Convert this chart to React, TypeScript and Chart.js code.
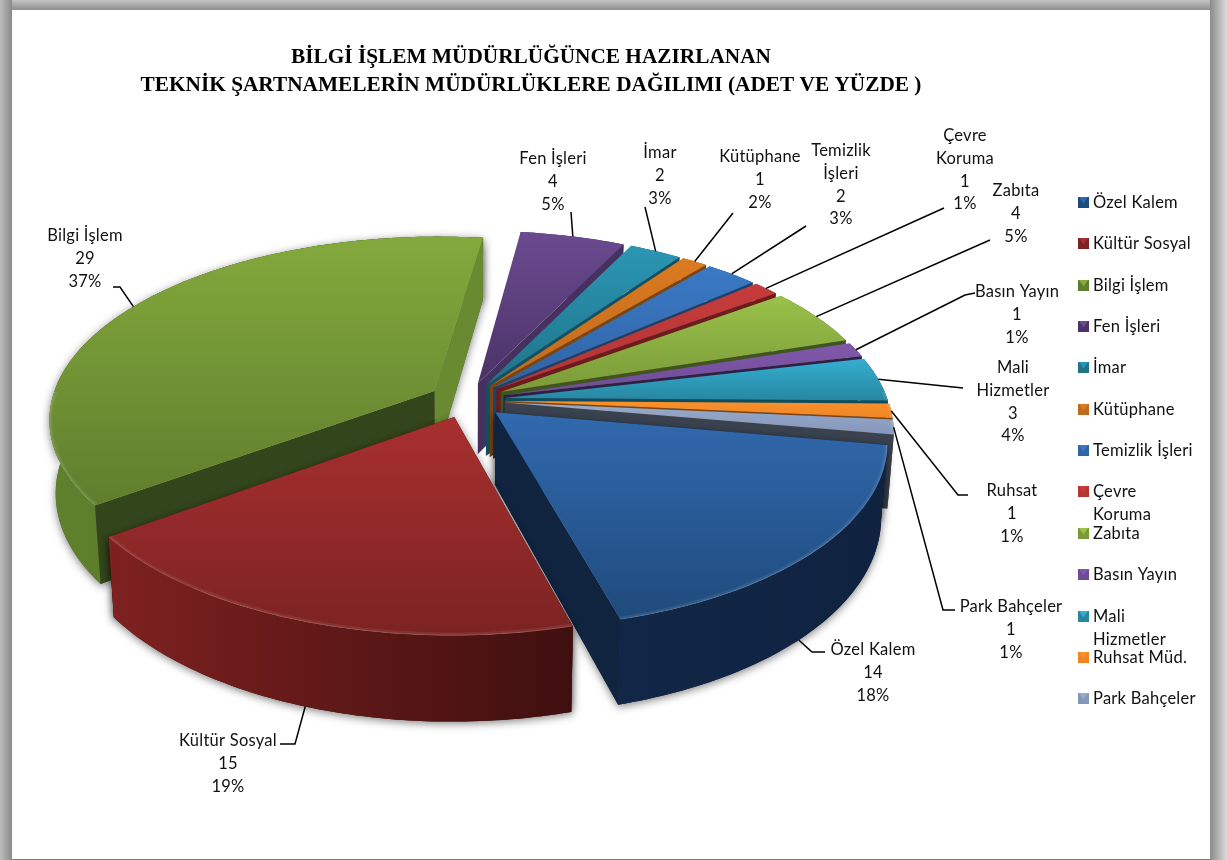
import React, { useEffect, useRef } from "react";
import { Chart, registerables } from "chart.js";

Chart.register(...registerables);

// ---- chart data ----
const categories = [
  "Özel Kalem", "Kültür Sosyal", "Bilgi İşlem", "Fen İşleri", "İmar", "Kütüphane", "Temizlik İşleri",
  "Çevre Koruma", "Zabıta", "Basın Yayın", "Mali Hizmetler", "Ruhsat Müd.", "Park Bahçeler",
];
const counts = [14, 15, 29, 4, 2, 1, 2, 1, 4, 1, 3, 1, 1];
const percentLabels = ["18%", "19%", "37%", "5%", "3%", "2%", "3%", "1%", "5%", "1%", "4%", "1%", "1%"];
const sliceNameLines = [
  ["Özel Kalem"], ["Kültür Sosyal"], ["Bilgi İşlem"], ["Fen İşleri"], ["İmar"], ["Kütüphane"], ["Temizlik", "İşleri"],
  ["Çevre", "Koruma"], ["Zabıta"], ["Basın Yayın"], ["Mali", "Hizmetler"], ["Ruhsat"], ["Park Bahçeler"],
];
const legendLines = [
  ["Özel Kalem"], ["Kültür Sosyal"], ["Bilgi İşlem"], ["Fen İşleri"], ["İmar"], ["Kütüphane"], ["Temizlik İşleri"],
  ["Çevre", "Koruma"], ["Zabıta"], ["Basın Yayın"], ["Mali", "Hizmetler"], ["Ruhsat Müd."], ["Park Bahçeler"],
];
const titleLines = [
  "BİLGİ İŞLEM MÜDÜRLÜĞÜNCE HAZIRLANAN",
  "TEKNİK ŞARTNAMELERİN MÜDÜRLÜKLERE DAĞILIMI (ADET VE YÜZDE )",
];

// ---- face colours per slice ----
const topLight = ["#3169ae", "#a82f2f", "#84a93c", "#6b4a90", "#2b96b4", "#dc7a20", "#3b79c6", "#c63b3b", "#9ac14a", "#8058aa", "#35aed2", "#fb912b", "#98abcd"];
const topDark = ["#1f4a7c", "#7b2322", "#5f7e2d", "#4a3366", "#1f7489", "#c06a1c", "#2f64a6", "#b53434", "#7a9a38", "#6f4b96", "#26879f", "#ee8424", "#8598bb"];
const rimLight = ["#13294a", "#7e2120", "#5f812d", "#46305f", "#175a6c", "#8e4c12", "#224a7c", "#7c1f1f", "#56742a", "#44305f", "#175a6c", "#8e4c12", "#3f4756"];
const rimDark = ["#0f2240", "#3f0f0f", "#4d6b25", "#3a2850", "#124958", "#783f0e", "#1a3a62", "#651919", "#445c20", "#3a2850", "#124958", "#783f0e", "#373e4b"];
const startWall = ["#10233f", "#5e1818", "#33451a", "#3e2b57", "#14505f", "#7e4410", "#1d3f6a", "#6e1b1b", "#3f5520", "#3e2b57", "#0f4c5c", "#7e4410", "#3a4250"];
const endWall = ["#10233f", "#5e1818", "#6a8a32", "#46305f", "#14505f", "#7e4410", "#1d3f6a", "#6e1b1b", "#3f5520", "#2e1f45", "#0f4c5c", "#7e4410", "#3a4250"];

// ---- pie placement ----
const ROTATION_DEG = 100;
const SLICE_OFFSET = 38;
const CX = 467;
const CY = 400;
const RX = 383;
const RY = 180;
const PERSPECTIVE = 0.15;
const DEPTH = 72;
const FLOOR_SHRINK = 0.015;

// Where each value label sits, and how its leader runs from the slice rim.
const labelCentreX = [873, 228, 85, 553, 660, 760, 841, 965, 1016, 1017, 1013, 1012, 1011];
const labelFirstY = [650, 741, 236, 159, 153, 157, 151, 136, 191, 292, 368, 491, 607];
const leaderNudgeDeg = [3, 0, 0, 0, 0, 0, 0, 0, 0, 0, 0, 0, 0];
const leaderDrop = [1, 1, 0, 0, 0, 0, 0, 0, 0, 0, 0, 0, 0];
const leaderVia: number[][][] = [
  [[812, 652], [825, 652]],
  [[295, 744], [280, 744]],
  [[120, 287], [113, 287]],
  [[571, 212]],
  [[645, 207]],
  [[733, 213]],
  [[806, 226]],
  [[944, 208]],
  [[990, 240]],
  [[965, 295], [975, 293]],
  [[963, 388]],
  [[958, 495], [968, 495]],
  [[943, 610], [955, 610]],
];
const legendY = [203, 244, 286, 327, 368, 410, 451, 492, 534, 575, 617, 658, 699];

const LABEL_FONT = '16.5px Lato, "Open Sans", sans-serif';
const LINE_GAP = 22.7;

function project(u: number, v: number, drop = 0) {
  const w = 1 - PERSPECTIVE * v;
  const x = CX + (RX * u) / w;
  return {
    x: CX + (x - CX) * (1 - FLOOR_SHRINK * drop),
    y: CY + (RY * v) / w + (drop * DEPTH) / w,
  };
}

type Pt = { x: number; y: number };

function fillPoly(ctx: CanvasRenderingContext2D, pts: Pt[], fill: string | CanvasGradient) {
  ctx.beginPath();
  pts.forEach((p, i) => (i ? ctx.lineTo(p.x, p.y) : ctx.moveTo(p.x, p.y)));
  ctx.closePath();
  ctx.fillStyle = fill;
  ctx.fill();
}

function sliceGeometry(el: any) {
  const start: number = el.startAngle;
  const end: number = el.endAngle;
  const mid = (start + end) / 2;
  const off = (el.options.offset || 0) / RX;
  const ou = Math.cos(mid) * off;
  const ov = Math.sin(mid) * off;
  const steps = Math.max(3, Math.ceil(((end - start) * 180) / Math.PI));
  const arc: { u: number; v: number }[] = [];
  for (let i = 0; i <= steps; i++) {
    const a = start + ((end - start) * i) / steps;
    arc.push({ u: ou + Math.cos(a), v: ov + Math.sin(a) });
  }
  return { start, end, mid, ou, ov, arc };
}

function isFrontWall(a: Pt, b: Pt, inside: Pt) {
  const side = (p: Pt) => (b.x - a.x) * (p.y - a.y) - (b.y - a.y) * (p.x - a.x);
  const below = { x: (a.x + b.x) / 2, y: (a.y + b.y) / 2 + 20 };
  return side(below) * side(inside) < 0;
}

function drawSlice(ctx: CanvasRenderingContext2D, el: any, i: number) {
  const g = sliceGeometry(el);
  const apexTop = project(g.ou, g.ov);
  const apexLow = project(g.ou, g.ov, 1);
  const rimTop = g.arc.map((p) => project(p.u, p.v));
  const rimLow = g.arc.map((p) => project(p.u, p.v, 1));
  const topFace = [apexTop, ...rimTop];
  const xs = topFace.map((p) => p.x);
  const ys = topFace.map((p) => p.y);
  const minX = Math.min(...xs);
  const maxX = Math.max(...xs);
  const minY = Math.min(...ys);
  const maxY = Math.max(...ys);
  const inside = {
    x: (apexTop.x + rimTop[rimTop.length >> 1].x) / 2,
    y: (apexTop.y + rimTop[rimTop.length >> 1].y) / 2,
  };

  const rimFace = [...rimTop, ...[...rimLow].reverse()];
  const startFace = [apexTop, rimTop[0], rimLow[0], apexLow];
  const endFace = [apexTop, rimTop[rimTop.length - 1], rimLow[rimLow.length - 1], apexLow];

  // soft drop shadow below the large slices
  if (counts[i] >= 14) {
    ctx.save();
    ctx.shadowColor = "rgba(0,0,0,0.5)";
    ctx.shadowBlur = 9;
    ctx.shadowOffsetY = 2;
    fillPoly(ctx, rimFace, rimDark[i]);
    fillPoly(ctx, startFace, rimDark[i]);
    fillPoly(ctx, endFace, rimDark[i]);
    ctx.restore();
  }

  const rimGrad = ctx.createLinearGradient(minX, 0, maxX, 0);
  rimGrad.addColorStop(0, rimLight[i]);
  rimGrad.addColorStop(1, rimDark[i]);
  fillPoly(ctx, rimFace, rimGrad);

  if (isFrontWall(apexTop, rimTop[0], inside)) fillPoly(ctx, startFace, startWall[i]);
  if (isFrontWall(apexTop, rimTop[rimTop.length - 1], inside)) fillPoly(ctx, endFace, endWall[i]);

  const topGrad = ctx.createLinearGradient(0, minY, 0, maxY);
  topGrad.addColorStop(0, topLight[i]);
  topGrad.addColorStop(1, topDark[i]);
  fillPoly(ctx, topFace, topGrad);

  // bevel along the front part of the outer edge of the top face
  const front = g.arc.map((p, k) => ({ p: rimTop[k], v: p.v })).filter((q) => q.v > -0.05);
  if (front.length > 1) {
    ctx.save();
    ctx.beginPath();
    topFace.forEach((p, k) => (k ? ctx.lineTo(p.x, p.y) : ctx.moveTo(p.x, p.y)));
    ctx.closePath();
    ctx.clip();
    ctx.beginPath();
    front.forEach((q, k) => (k ? ctx.lineTo(q.p.x, q.p.y) : ctx.moveTo(q.p.x, q.p.y)));
    ctx.strokeStyle = "rgba(255,255,255,0.07)";
    ctx.lineWidth = 6;
    ctx.stroke();
    ctx.strokeStyle = "rgba(255,255,255,0.13)";
    ctx.lineWidth = 2;
    ctx.stroke();
    ctx.restore();
  }
}

function drawFrame(ctx: CanvasRenderingContext2D, w: number, h: number) {
  const L = 12;
  const T = 10;
  const R = 1210;
  const band = (x0: number, y0: number, x1: number, y1: number, from: string, to: string, rx: number, ry: number, rw: number, rh: number) => {
    const gr = ctx.createLinearGradient(x0, y0, x1, y1);
    gr.addColorStop(0, from);
    gr.addColorStop(1, to);
    ctx.fillStyle = gr;
    ctx.fillRect(rx, ry, rw, rh);
  };
  ctx.fillStyle = "#ffffff";
  ctx.fillRect(0, 0, w, h);
  band(0, 0, 0, T, "#c4c4c4", "#8e8e8e", 0, 0, w, T);
  band(0, 0, L, 0, "#bdbdbd", "#8a8a8a", 0, 0, L, h);
  band(R, 0, w, 0, "#8a8a8a", "#dcdcdc", R, 0, w - R, h);
  ctx.fillStyle = "#7d7d7d";
  ctx.fillRect(L, h - 1, R - L, 1);
}

function setLabelType(ctx: CanvasRenderingContext2D, align: CanvasTextAlign) {
  ctx.fillStyle = "#111111";
  ctx.font = LABEL_FONT;
  (ctx as any).letterSpacing = "0.25px";
  ctx.textAlign = align;
  ctx.textBaseline = "middle";
}

function drawLegend(ctx: CanvasRenderingContext2D) {
  legendLines.forEach((lines, i) => {
    const y = legendY[i];
    const x0 = 1078;
    const y0 = y - 6;
    const s = 11;
    fillPoly(ctx, [{ x: x0, y: y0 }, { x: x0 + s, y: y0 }, { x: x0 + s, y: y0 + s }, { x: x0, y: y0 + s }], topDark[i]);
    fillPoly(ctx, [{ x: x0 + 1, y: y0 }, { x: x0 + s - 1, y: y0 }, { x: x0 + s / 2, y: y0 + s * 0.6 }], topLight[i]);
    setLabelType(ctx, "left");
    lines.forEach((t, k) => ctx.fillText(t, 1093, y + k * 22.5));
  });
}

function drawValueLabels(ctx: CanvasRenderingContext2D, arcs: any[]) {
  arcs.forEach((el, i) => {
    const g = sliceGeometry(el);
    const a = g.mid + (leaderNudgeDeg[i] * Math.PI) / 180;
    const from = project(g.ou + Math.cos(a), g.ov + Math.sin(a), leaderDrop[i]);
    ctx.beginPath();
    ctx.moveTo(from.x, from.y);
    leaderVia[i].forEach((p) => ctx.lineTo(p[0], p[1]));
    ctx.strokeStyle = "#000000";
    ctx.lineWidth = 1.5;
    ctx.stroke();

    const lines = [...sliceNameLines[i], String(counts[i]), percentLabels[i]];
    setLabelType(ctx, "center");
    lines.forEach((t, k) => ctx.fillText(t, labelCentreX[i], labelFirstY[i] + k * LINE_GAP));
  });
}

const framePlugin = {
  id: "pageFrame",
  beforeDraw(chart: any) {
    drawFrame(chart.ctx, chart.width, chart.height);
  },
};

// Renders the arcs the pie controller laid out as extruded wedges in perspective.
const extrudedPie = {
  id: "extrudedPie",
  beforeDatasetsDraw(chart: any) {
    const ctx: CanvasRenderingContext2D = chart.ctx;
    const arcs: any[] = chart.getDatasetMeta(0).data;
    const order = arcs
      .map((el, i) => ({ i, v: Math.sin((el.startAngle + el.endAngle) / 2) }))
      .sort((a, b) => a.v - b.v);
    ctx.save();
    order.forEach(({ i }) => drawSlice(ctx, arcs[i], i));
    drawValueLabels(ctx, arcs);
    drawLegend(ctx);
    ctx.restore();
    return false;
  },
};

export default function App() {
  const ref = useRef<HTMLCanvasElement>(null);
  useEffect(() => {
    if (!ref.current) return;
    const chart = new Chart(ref.current, {
      type: "pie",
      data: {
        labels: categories,
        datasets: [{ data: counts, backgroundColor: topLight, offset: SLICE_OFFSET, borderWidth: 0 }],
      },
      options: {
        animation: false,
        responsive: false,
        rotation: ROTATION_DEG,
        layout: { padding: { right: 165 } },
        events: [],
        plugins: {
          legend: { display: false },
          tooltip: { enabled: false },
          title: {
            display: true,
            fullSize: false,
            text: titleLines,
            color: "#000000",
            font: { family: '"Liberation Serif", serif', size: 21.3, weight: "bold", lineHeight: 1.3 },
            padding: { top: 44, bottom: 0 },
          },
        },
      } as any,
      plugins: [framePlugin, extrudedPie],
    });
    return () => chart.destroy();
  }, []);
  return (
    <canvas
      ref={ref}
      width={1227}
      height={860}
      style={{ position: "fixed", left: 0, top: 0, width: 1227, height: 860, display: "block" }}
    />
  );
}
